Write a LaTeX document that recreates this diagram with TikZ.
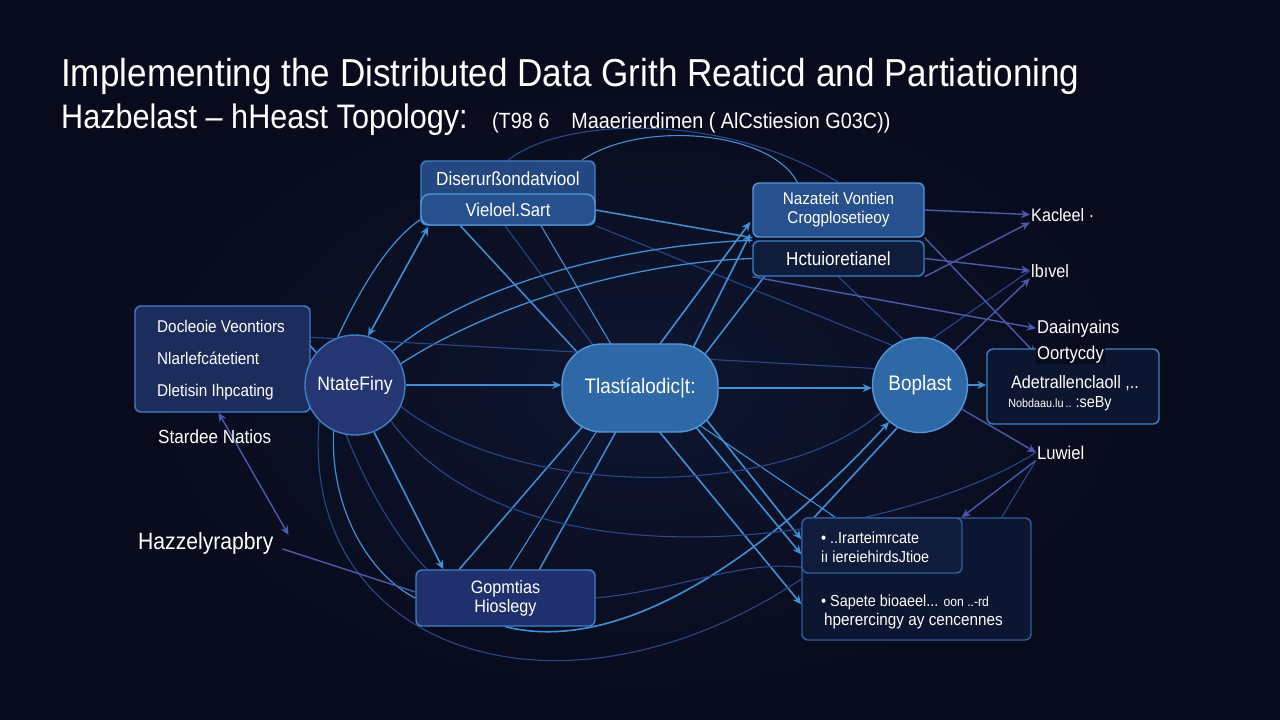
\documentclass[tikz,border=0pt]{standalone}
\usepackage{fontspec}
\setmainfont{Liberation Sans}[FakeStretch=0.9]
\usetikzlibrary{arrows.meta,calc,positioning,backgrounds}
\definecolor{bgdeep}{RGB}{8,11,28}
\definecolor{bgglow}{RGB}{15,22,48}
\definecolor{skyline}{RGB}{64,144,216}
\definecolor{indigoline}{RGB}{74,90,172}
\definecolor{faintline}{RGB}{40,72,140}
\definecolor{rimblue}{RGB}{62,128,200}
\definecolor{rimbright}{RGB}{82,152,218}
\definecolor{rimdim}{RGB}{46,94,160}
\definecolor{navyfill}{RGB}{28,44,92}
\definecolor{hubfill}{RGB}{38,54,114}
\definecolor{corefill}{RGB}{46,104,166}
\definecolor{azurefill}{RGB}{38,80,142}
\definecolor{deepfill}{RGB}{16,28,60}
\definecolor{inkfill}{RGB}{12,22,48}
\definecolor{indigofill}{RGB}{32,48,110}
\newcommand{\fsz}[2]{\fontsize{#1}{#2}\selectfont}
\tikzset{
  panel/.style={draw=rimblue, line width=1.4pt, rounded corners=6pt,
    text=white, align=center, inner sep=0pt},
  hub/.style={circle, draw=rimblue, line width=1.4pt, text=white, inner sep=0pt},
  tag/.style={text=white, inner sep=1pt},
  flow/.style={skyline, line width=1.6pt, -{Stealth[length=9pt,width=8pt]}},
  twoway/.style={skyline, line width=1.6pt,
    {Stealth[length=9pt,width=8pt]}-{Stealth[length=9pt,width=8pt]}},
  link/.style={skyline, line width=1.5pt},
  feed/.style={indigoline, line width=1.4pt, -{Stealth[length=9pt,width=8pt]}},
  pairfeed/.style={indigoline, line width=1.4pt,
    {Stealth[length=9pt,width=8pt]}-{Stealth[length=9pt,width=8pt]}},
  thread/.style={faintline, line width=1.1pt}
}

\begin{document}
\begin{tikzpicture}[x=1pt, y=-1pt]
  \useasboundingbox (0,0) rectangle (1280,720);

  % Heading lines.
  \node[tag, anchor=base west, font=\fsz{39}{47}] (heading) at (60,86)
    {Implementing the Distributed Data Grith Reaticd and Partiationing};
  \node[tag, anchor=base west, font=\fsz{34}{40}] (subhead) at (60,128)
    {Hazbelast – hHeast Topology:};
  \node[tag, font=\fsz{22}{26}, right=22pt of subhead.base east, anchor=base west] (subnote)
    {(T98 6\quad Maaerierdimen ( AlCstiesion G03C))};

  % Left panel and its tags.
  \node[panel, fill=navyfill, minimum width=175, minimum height=106] (docl) at (222.5,359) {};
  \node[tag, anchor=west, align=left, font=\fsz{17}{32}] (docltext) at (156,360)
    {Docleoie Veontiors\\Nlarlefcátetient\\Dletisin Ihpcating};
  \node[tag, anchor=base west, font=\fsz{19}{22}] (stard) at (157,443) {Stardee Natios};
  \node[tag, anchor=base west, font=\fsz{23.5}{28}] (hazz) at (137,549) {Hazzelyrapbry};

  % Hubs along the middle row.
  \node[hub, fill=hubfill, minimum size=100pt, font=\fsz{19.5}{23}] (ntate) at (355,385) {NtateFiny};
  \node[panel, fill=corefill, draw=rimbright, rounded corners=40pt,
    minimum width=156, minimum height=88, font=\fsz{21}{25}] (tlast) at (640,388)
    {Tlastíalodic|t:};
  \node[hub, fill=corefill, draw=rimbright, minimum size=95pt, font=\fsz{21}{25}] (boplast) at (920,385) {Boplast};

  % Upper panels.
  \node[panel, fill=azurefill!75!navyfill, minimum width=174, minimum height=64] (disr) at (508,193) {};
  \node[panel, fill=azurefill, draw=rimbright, rounded corners=9pt,
    minimum width=174, minimum height=31, font=\fsz{18.5}{22}] (viel) at (508,209.5) {Vieloel.Sart};
  \node[tag, font=\fsz{19}{22}] (diser) at (508,179) {Diserurßondatviool};

  \node[panel, fill=azurefill, draw=rimbright, minimum width=171, minimum height=54,
    font=\fsz{17}{19}] (naz) at (838.5,210) {Nazateit Vontien\\Crogplosetieoy};
  \node[panel, fill=deepfill, minimum width=171, minimum height=35,
    font=\fsz{19}{22}] (hctu) at (838.5,258.5) {Hctuioretianel};

  % Right panel.
  \node[panel, fill=inkfill, minimum width=172, minimum height=75] (adet) at (1073,386.5) {};
  \node[tag, font=\fsz{18}{21}] (adet1) at (1075,383) {Adetrallenclaoll ,..};
  \node[tag, font=\fsz{12}{14}] (adet2) at (1060,404) {Nobdaau.lu\,.. {\fsz{16}{19}:seBy}};

  % Outer tags on the right.
  \node[tag, anchor=base west, font=\fsz{18}{21}] (kacl) at (1030,221) {Kacleel ·};
  \node[tag, anchor=base west, font=\fsz{18}{21}] (lbiv) at (1030,277) {lbıvel};
  \node[tag, anchor=base west, font=\fsz{18.5}{21}] (daai) at (1036,333) {Daainyains};
  \node[tag, anchor=base west, font=\fsz{18.5}{21}, fill=bgdeep] (orty) at (1036,359) {Oortycdy};
  \node[tag, anchor=base west, font=\fsz{18.5}{21}] (luw) at (1036,459) {Luwiel};

  % Lower panels.
  \node[panel, fill=indigofill, minimum width=179, minimum height=56,
    font=\fsz{18}{19}] (gopm) at (505.5,598) {Gopmtias\\Hioslegy};

  \node[panel, fill=inkfill, draw=rimdim, minimum width=229, minimum height=122] (brbox) at (916.5,579) {};
  \node[panel, fill=deepfill, draw=rimdim, minimum width=160, minimum height=55,
    anchor=north west] (brsub) at (brbox.north west) {};
  \node[tag, anchor=base west, font=\fsz{16}{19}] (note1) at (820,543) {• ..Irarteimrcate};
  \node[tag, anchor=base west, font=\fsz{16}{19}] (note2) at (820,562) {iı iereiehirdsJtioe};
  \node[tag, anchor=base west, font=\fsz{16}{19}] (note3) at (820,606)
    {• Sapete bioaeel... {\fsz{13.5}{16}oon ..-rd}};
  \node[tag, anchor=base west, font=\fsz{17}{19}] (note4) at (823,625) {hperercingy ay cencennes};

  \begin{scope}[on background layer]
    \fill[bgdeep] (0,0) rectangle (1280,720);
    \shade[inner color=bgglow, outer color=bgdeep] (140,80) rectangle (1140,700);

    % Middle row spokes.
    \draw[flow] (ntate.east) -- (ntate.east -| tlast.west);
    \draw[flow] (tlast.east) -- (tlast.east -| boplast.west);
    \draw[flow] (boplast.east) -- (boplast.east -| adet.west);
    \draw[flow] (ntate.140) -- ($(docl.north east)+(-8,32)$);
    \draw[twoway] ($(disr.south west)+(8,1)$) -- (ntate.75);

    % Top panel to the core.
    \draw[link] ($(disr.south west)+(40,0)$) -- ($(tlast.center)+(-50,-22)$);
    \draw[thread] ($(disr.south)+(-3,0)$) -- ($(tlast.center)+(-30,-20)$);
    \draw[link, line width=1.1pt] ($(disr.south)+(33,0)$) -- ($(tlast.center)+(-15,-20)$);
    \draw[link] ($(disr.east)+(0,17)$) -- (naz.south west);
    \draw[thread] (disr.south east) -- (boplast.125);

    % Core to the upper right panels.
    \draw[flow] ($(tlast.center)+(17,-40)$) -- ($(naz.west)+(-2,12)$);
    \draw[flow] ($(tlast.center)+(52,-38)$) -- ($(naz.south west)+(-2,-4)$);
    \draw[link] ($(tlast.center)+(62,-30)$) -- ($(hctu.south west)+(12,0)$);

    % Hub and core to the lower panels.
    \draw[flow] (ntate.-68) -- ($(gopm.north west)+(28,0)$);
    \draw[link] ($(gopm.north west)+(44,0)$) -- ($(tlast.center)+(-50,30)$);
    \draw[link, line width=1.1pt] ($(gopm.north)+(4,0)$) -- ($(tlast.center)+(-40,38)$);
    \draw[link] ($(gopm.north)+(34,0)$) -- ($(tlast.center)+(-22,40)$);
    \draw[flow] ($(tlast.center)+(65,30)$) -- ($(brbox.north west)+(0,22)$);
    \draw[flow] ($(tlast.center)+(55,38)$) -- ($(brbox.north west)+(0,37)$);
    \draw[flow] ($(tlast.center)+(18,42)$) -- ($(brbox.north west)+(0,87)$);
    \draw[link, line width=1.1pt] ($(tlast.center)+(58,36)$) -- ($(brbox.north west)+(34,0)$);
    \draw[flow] (boplast.-118) -- ($(brbox.north west)+(0,14)$);
    \draw[flow] (gopm.south) .. controls (640,660) and (800,520) .. (boplast.-130);

    % Sweeping arcs round the hub.
    \draw[link, line width=1.3pt] (ntate.25) .. controls (500,300) and (640,262) .. (hctu.west);
    \draw[link, line width=1.3pt] (ntate.42) .. controls (470,285) and (620,245) .. (hctu.north west);
    \draw[link, line width=1.2pt] (ntate.110) .. controls (362,285) and (390,240) .. ($(disr.south west)+(0,-6)$);
    \draw[thread] (ntate.-25) .. controls (520,500) and (780,500) .. (boplast.-145);
    \draw[thread] (ntate.-45) .. controls (520,600) and (900,540) .. (luw.west);
    \draw[link, line width=1.2pt] (ntate.-115) .. controls (330,510) and (370,575) .. (gopm.west);
    \draw[thread] (ntate.-100) .. controls (372,500) and (405,548) .. ($(gopm.north west)+(12,0)$);
    \draw[thread] (ntate.-135) .. controls (300,650) and (560,740) .. (brbox.west);
    \draw[thread] (gopm.east) .. controls (680,590) and (740,560) .. ($(brbox.north west)+(0,50)$);
    \draw[thread] (disr.north) .. controls (560,118) and (720,110) .. (naz.north);
    \draw[link, line width=1.1pt] ($(disr.north east)+(-14,0)$) .. controls (640,120) and (770,130) .. ($(naz.north west)+(45,0)$);
    \draw[thread] ($(docl.north east)+(0,32)$) -- (boplast.160);
    \draw[thread] (hctu.south) -- (boplast.110);

    % Outer tags.
    \draw[feed] (naz.east) -- (kacl.west);
    \draw[feed] (hctu.east) -- (lbiv.west);
    \draw[feed] (hctu.south east) -- (kacl.south west);
    \draw[feed] (boplast.45) -- (lbiv.south west);
    \draw[thread] (boplast.75) -- (lbiv.west);
    \draw[feed] (hctu.south west) -- (daai.west);
    \draw[feed] (naz.south east) -- (orty.west);
    \draw[feed] (boplast.-30) -- (luw.west);
    \draw[feed] (luw.south west) -- ($(brbox.north east)+(-70,0)$);
    \draw[thread] ($(brbox.north east)+(-30,0)$) -- (luw.south west);
    \draw[pairfeed] ($(docl.south)+(-4,0)$) -- ($(hazz.east)+(14,-8)$);
    \draw[indigoline, line width=1.4pt] ($(hazz.east)+(8,6)$) -- ($(gopm.west)+(0,-6)$);
  \end{scope}

\end{tikzpicture}
\end{document}
